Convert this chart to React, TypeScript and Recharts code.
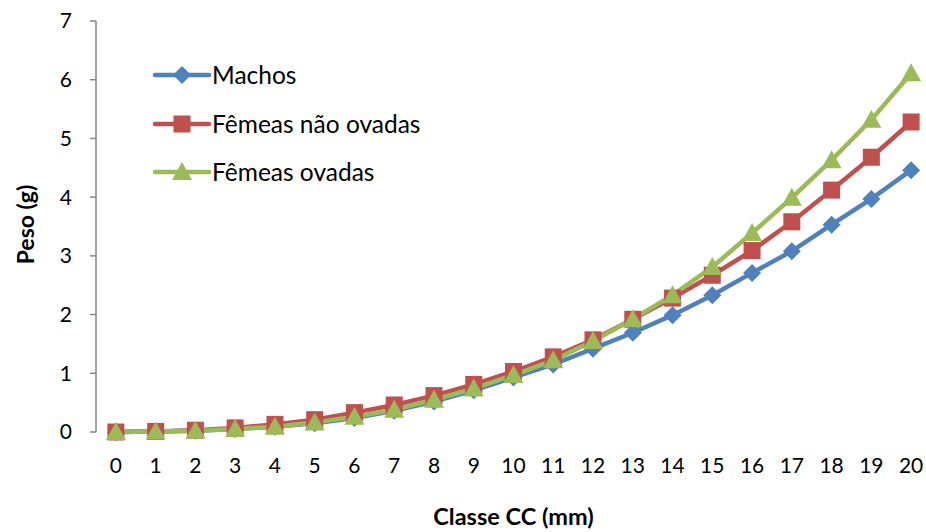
import React from 'react';
import { LineChart, Line, XAxis, YAxis, Legend, Label } from 'recharts';

const categories = [0, 1, 2, 3, 4, 5, 6, 7, 8, 9, 10, 11, 12, 13, 14, 15, 16, 17, 18, 19, 20];
const machos = [0, 0.01, 0.02, 0.05, 0.09, 0.15, 0.24, 0.36, 0.52, 0.71, 0.93, 1.15, 1.42, 1.69, 1.99, 2.33, 2.71, 3.08, 3.53, 3.97, 4.46];
const femeasNaoOvadas = [0, 0.01, 0.03, 0.07, 0.13, 0.21, 0.33, 0.46, 0.62, 0.81, 1.03, 1.28, 1.57, 1.92, 2.28, 2.67, 3.09, 3.58, 4.12, 4.68, 5.28];
const femeasOvadas = [0, 0.01, 0.02, 0.05, 0.09, 0.16, 0.26, 0.38, 0.55, 0.74, 0.97, 1.22, 1.55, 1.92, 2.33, 2.81, 3.39, 3.99, 4.63, 5.32, 6.11];
const yTicks = [0, 1, 2, 3, 4, 5, 6, 7];
const edgeTicks = [-0.5, 0.5, 1.5, 2.5, 3.5, 4.5, 5.5, 6.5, 7.5, 8.5, 9.5, 10.5, 11.5, 12.5, 13.5, 14.5, 15.5, 16.5, 17.5, 18.5, 19.5, 20.5];

const data = categories.map((c, i) => ({
  x: c,
  machos: machos[i],
  naoOvadas: femeasNaoOvadas[i],
  ovadas: femeasOvadas[i],
}));

const BLUE = '#4F81BD';
const RED = '#C0504D';
const GREEN = '#9BBB59';
const AXIS = '#868686';
const FONT = 'Lato, Carlito, Calibri, sans-serif';

function marker(shape: string, cx: number, cy: number, color: string, key?: any) {
  if (shape === 'diamond') {
    const r = 9;
    return <path key={key} d={`M${cx},${cy - r}L${cx + r},${cy}L${cx},${cy + r}L${cx - r},${cy}Z`} fill={color} />;
  }
  if (shape === 'square') {
    const h = 8.5;
    return <rect key={key} x={cx - h} y={cy - h} width={h * 2} height={h * 2} fill={color} />;
  }
  const w = 10;
  return <path key={key} d={`M${cx},${cy - 10}L${cx + w},${cy + 8}L${cx - w},${cy + 8}Z`} fill={color} />;
}

const makeDot = (shape: string, color: string) => (props: any) =>
  marker(shape, props.cx, props.cy, color, props.key ?? `${shape}-${props.index}`);

const legendItems = [
  { name: 'Machos', color: BLUE, shape: 'diamond' },
  { name: 'Fêmeas não ovadas', color: RED, shape: 'square' },
  { name: 'Fêmeas ovadas', color: GREEN, shape: 'triangle' },
];

const ChartLegend = () => (
  <div style={{ fontFamily: FONT, fontSize: 24.5, color: '#000', lineHeight: 1 }}>
    {legendItems.map((it) => (
      <div key={it.name} style={{ display: 'flex', alignItems: 'center', height: 48.5 }}>
        <svg width={60} height={24} style={{ display: 'block' }}>
          <line x1={3} y1={12} x2={57} y2={12} stroke={it.color} strokeWidth={4.5} strokeLinecap="round" />
          {marker(it.shape, 30, 12, it.color)}
        </svg>
        <span style={{ whiteSpace: 'nowrap' }}>{it.name}</span>
      </div>
    ))}
  </div>
);

const YTitle = ({ viewBox }: any) => {
  const cx = 25;
  const cy = viewBox.y + viewBox.height / 2 - 2;
  return (
    <text x={cx} y={cy} transform={`rotate(-90 ${cx} ${cy})`} textAnchor="middle" dominantBaseline="central"
      fontFamily={FONT} fontWeight="bold" fontSize={23} fill="#000">
      Peso (g)
    </text>
  );
};

export default function App() {
  return (
    <div style={{ position: 'absolute', left: 0, top: 0, width: 926, height: 532, overflow: 'hidden', background: '#fff' }}>
      <LineChart width={940} height={532} data={data} margin={{ top: 21, right: 9, left: 0, bottom: 0 }}>
        <XAxis
          xAxisId="edges"
          type="number"
          dataKey="x"
          domain={[-0.5, 20.5]}
          ticks={edgeTicks}
          tickFormatter={() => ''}
          height={0}
          stroke={AXIS}
          tickSize={6}
          axisLine={{ stroke: AXIS, strokeWidth: 1.5 }}
          tickLine={{ stroke: AXIS, strokeWidth: 1.5 }}
        />
        <XAxis
          type="number"
          dataKey="x"
          domain={[-0.5, 20.5]}
          ticks={categories}
          interval={0}
          height={100}
          axisLine={false}
          tickLine={false}
          tickMargin={20}
          tick={{ fontFamily: FONT, fontSize: 21, fill: '#000' }}
        >
          <Label value="Classe CC (mm)" position="insideBottom" offset={7}
            style={{ fontFamily: FONT, fontWeight: 'bold', fontSize: 23.5, fill: '#000' }} />
        </XAxis>
        <YAxis
          domain={[0, 7]}
          ticks={yTicks}
          width={96}
          tickSize={6}
          tickMargin={18}
          axisLine={{ stroke: AXIS, strokeWidth: 1.5 }}
          tickLine={{ stroke: AXIS, strokeWidth: 1.5 }}
          tick={{ fontFamily: FONT, fontSize: 21, fill: '#000' }}
        >
          <Label content={<YTitle />} />
        </YAxis>
        <Legend
          layout="vertical"
          align="center"
          verticalAlign="middle"
          content={<ChartLegend />}
          wrapperStyle={{ left: 152, top: 51, width: 340 }}
        />
        <Line dataKey="machos" name="Machos" stroke={BLUE} strokeWidth={4.5} dot={makeDot('diamond', BLUE)} activeDot={false} isAnimationActive={false} />
        <Line dataKey="naoOvadas" name="Fêmeas não ovadas" stroke={RED} strokeWidth={4.5} dot={makeDot('square', RED)} activeDot={false} isAnimationActive={false} />
        <Line dataKey="ovadas" name="Fêmeas ovadas" stroke={GREEN} strokeWidth={4.5} dot={makeDot('triangle', GREEN)} activeDot={false} isAnimationActive={false} />
      </LineChart>
    </div>
  );
}
